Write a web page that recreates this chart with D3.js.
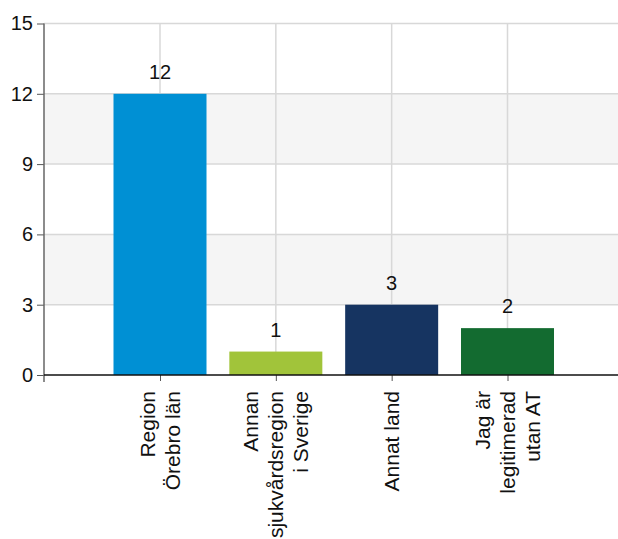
<!DOCTYPE html>
<html>
<head>
<meta charset="utf-8">
<script src="https://cdn.jsdelivr.net/npm/d3@7"></script>
<style>
  body { margin: 0; background: #fff; }
  svg { display: block; font-family: "Liberation Sans", Arial, sans-serif; }
</style>
</head>
<body>
<div id="chart"></div>
<script>
// data
const categories = ["Region Örebro län", "Annan sjukvårdsregion i Sverige", "Annat land", "Jag är legitimerad utan AT"];
const labelLines = [["Region", "Örebro län"], ["Annan", "sjukvårdsregion", "i Sverige"], ["Annat land"], ["Jag är", "legitimerad", "utan AT"]];
const values = [12, 1, 3, 2];
const colors = ["#0090d4", "#a1c43a", "#163461", "#136b30"];
const yTicks = [0, 3, 6, 9, 12, 15];
const bands = [[9, 12], [3, 6]];

const width = 618;
const height = 539;
const margin = { top: 23.5, right: 0, bottom: 164, left: 44 };

const svg = d3.select("#chart").append("svg")
  .attr("width", width)
  .attr("height", height);

const yScale = d3.scaleLinear().domain([0, 15]).range([height - margin.bottom, margin.top]);
const xScale = d3.scalePoint().domain(categories).range([160, 507.5]);
const barW = 93;

// shaded bands
svg.selectAll(".band")
  .data(bands)
  .enter()
  .append("rect")
  .attr("x", margin.left)
  .attr("y", (d) => yScale(d[1]))
  .attr("width", width - margin.left)
  .attr("height", (d) => yScale(d[0]) - yScale(d[1]))
  .attr("fill", "#f5f5f5");

// grid
svg.selectAll(".hgrid")
  .data(yTicks.filter((d) => d > 0))
  .enter()
  .append("line")
  .attr("x1", margin.left)
  .attr("x2", width)
  .attr("y1", (d) => yScale(d))
  .attr("y2", (d) => yScale(d))
  .attr("stroke", "#d8d8d8")
  .attr("stroke-width", 1.5);

svg.selectAll(".vgrid")
  .data(categories)
  .enter()
  .append("line")
  .attr("x1", (d) => xScale(d))
  .attr("x2", (d) => xScale(d))
  .attr("y1", yScale(15))
  .attr("y2", yScale(0))
  .attr("stroke", "#d8d8d8")
  .attr("stroke-width", 1.5);

// bars
svg.selectAll(".bar")
  .data(values)
  .enter()
  .append("rect")
  .attr("x", (d, i) => xScale(categories[i]) - barW / 2)
  .attr("y", (d) => yScale(d))
  .attr("width", barW)
  .attr("height", (d) => yScale(0) - yScale(d))
  .attr("fill", (d, i) => colors[i]);

// value labels
svg.selectAll(".val")
  .data(values)
  .enter()
  .append("text")
  .attr("x", (d, i) => xScale(categories[i]))
  .attr("y", (d) => yScale(d) - 15)
  .attr("text-anchor", "middle")
  .attr("font-size", 20)
  .attr("fill", "#111")
  .text((d) => d);

// y axis
const yAxis = d3.axisLeft(yScale)
  .tickValues(yTicks)
  .tickSize(7)
  .tickPadding(4)
  .tickSizeOuter(0);

svg.append("g")
  .attr("transform", `translate(${margin.left},0)`)
  .call(yAxis)
  .call((g) => g.select(".domain").remove())
  .call((g) => g.selectAll("line").attr("stroke", "#555"))
  .call((g) => g.selectAll("text").attr("font-size", 20).attr("font-family", "Liberation Sans, Arial, sans-serif").attr("fill", "#111"));

svg.append("line")
  .attr("x1", margin.left)
  .attr("x2", margin.left)
  .attr("y1", yScale(15))
  .attr("y2", yScale(0) + 7)
  .attr("stroke", "#666")
  .attr("stroke-width", 1.5);

// x axis
const xAxis = d3.axisBottom(xScale).tickSize(6).tickFormat("").tickSizeOuter(0);

svg.append("g")
  .attr("transform", `translate(0,${yScale(0)})`)
  .call(xAxis)
  .call((g) => g.select(".domain").remove())
  .call((g) => g.selectAll("line").attr("stroke", "#555"));

svg.append("line")
  .attr("x1", margin.left)
  .attr("x2", width)
  .attr("y1", yScale(0))
  .attr("y2", yScale(0))
  .attr("stroke", "#111")
  .attr("stroke-width", 1.5);

// rotated category labels
const lineH = 25;
const labels = svg.selectAll(".xlabel")
  .data(categories)
  .enter()
  .append("text")
  .attr("transform", (d) => `translate(${xScale(d)},391) rotate(-90)`)
  .attr("text-anchor", "end")
  .attr("font-size", 21)
  .attr("fill", "#111");

labels.each(function (d, i) {
  const lines = labelLines[i];
  const n = lines.length;
  d3.select(this)
    .selectAll("tspan")
    .data(lines)
    .enter()
    .append("tspan")
    .attr("x", 0)
    .attr("y", (l, j) => (j - (n - 1) / 2) * lineH + 7)
    .text((l) => l);
});
</script>
</body>
</html>
